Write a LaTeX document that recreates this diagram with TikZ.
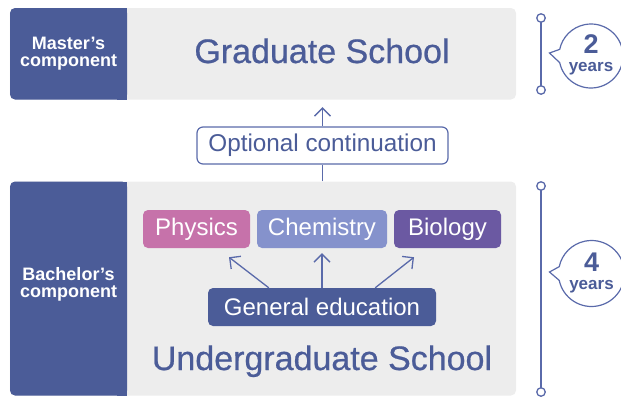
\documentclass[tikz,border=0pt]{standalone}
\usepackage{fontspec}
\setmainfont{Liberation Sans}
\newfontfamily\medfont{Liberation Sans}[FakeBold=0.6]
\usetikzlibrary{arrows.meta,calc}
\definecolor{navy}{RGB}{75,92,152}
\definecolor{panel}{RGB}{237,237,237}
\definecolor{tline}{RGB}{90,106,170}
\definecolor{phys}{RGB}{198,114,170}
\definecolor{chem}{RGB}{133,146,204}
\definecolor{bio}{RGB}{107,89,162}
\tikzset{
  subj/.style={rounded corners=5bp, inner sep=0pt, minimum height=38bp, text=white,
    font=\fontsize{24bp}{28bp}\selectfont},
  school/.style={text=navy, inner sep=0pt, font=\medfont\fontsize{34bp}{40bp}\selectfont},
  comp/.style={text=white, inner sep=0pt, align=center,
    font=\bfseries\fontsize{18bp}{17bp}\selectfont},
  arr/.style={draw=tline, line width=1.3bp, -{Straight Barb[length=8bp,width=16bp,line width=1.3bp]}},
  tl/.style={draw=tline, line width=1.5bp},
  dot/.style={circle, draw=tline, line width=1.3bp, fill=white, minimum size=8.5bp, inner sep=0pt},
  yrs/.style={text=navy, inner sep=0pt, align=center, font=\bfseries\fontsize{17bp}{20bp}\selectfont},
}
\newcommand{\bignum}[1]{{\fontsize{27bp}{28bp}\selectfont #1}}
\begin{document}
\begin{tikzpicture}[x=1bp,y=1bp]
\useasboundingbox (0,0) rectangle (621,-396);
% top panel
\node[fill=panel, rounded corners=5bp, minimum width=506bp, minimum height=91.5bp, inner sep=0pt] (toppanel) at (263,-53.75) {};
\fill[navy, rounded corners=5bp] (10,-8) rectangle (127,-99.5);
\fill[navy] (117,-8) rectangle (127,-99.5);
\node[comp] (master) at (68.5,-54) {Master’s\\component};
\node[school, anchor=base] (grad) at (322,-63) {Graduate School};
% bottom panel
\node[fill=panel, rounded corners=5bp, minimum width=506bp, minimum height=214bp, inner sep=0pt] (botpanel) at (263,-288.5) {};
\fill[navy, rounded corners=5bp] (10,-181.5) rectangle (127,-395.5);
\fill[navy] (117,-181.5) rectangle (127,-395.5);
\node[comp] (bach) at (68.5,-284.5) {Bachelor’s\\component};
\node[school, anchor=base] (under) at (322,-370) {Undergraduate School};
% optional continuation
\node[draw=tline, line width=1.2bp, fill=white, rounded corners=6bp, minimum width=251bp, minimum height=37bp, inner sep=0pt, text=navy,
  font=\fontsize{24.3bp}{28bp}\selectfont] (opt) at (322.5,-145.5) {Optional continuation};
\draw[tl, line width=1.3bp] (botpanel.north -| opt.south) -- (opt.south);
\draw[arr] (opt.north) -- ([yshift=-7.5bp]toppanel.south -| opt.north);
% subjects
\node[subj, fill=phys, minimum width=107bp] (physics) at (196.5,-229) {Physics};
\node[subj, fill=chem, minimum width=130bp] (chemistry) at (322,-229) {Chemistry};
\node[subj, fill=bio, minimum width=107bp] (biology) at (447.5,-229) {Biology};
\node[subj, fill=navy, minimum width=228bp] (gened) at (322,-307) {General education};
\draw[arr] ([xshift=61bp]gened.north west) -- ([xshift=32.5bp,yshift=-9bp]physics.south);
\draw[arr] (gened.north) -- ([yshift=-5bp]chemistry.south);
\draw[arr] ([xshift=-61bp]gened.north east) -- ([xshift=-33.5bp,yshift=-9bp]biology.south);
% timeline top
\coordinate (t1) at (541,-18);
\coordinate (t2) at (541,-90);
\draw[tl] (t1) -- (t2);
\node[dot] (d1) at (t1) {};
\node[dot] (d2) at (t2) {};
\coordinate (b1c) at (591,-56);
\coordinate (b1tip) at (549.5,-53);
\draw[draw=tline, line width=1.2bp, fill=white] (b1c) ++(192:32) arc[start angle=192, end angle=528, radius=32] -- (b1tip) -- cycle;
\node[yrs] (years1) at (591,-54.5) {\bignum{2}\\[-2bp]years};
% timeline bottom
\coordinate (t3) at (541,-186);
\coordinate (t4) at (541,-392);
\draw[tl] (t3) -- (t4);
\node[dot] (d3) at (t3) {};
\node[dot] (d4) at (t4) {};
\coordinate (b2c) at (591.5,-273.5);
\coordinate (b2tip) at (549.5,-272);
\draw[draw=tline, line width=1.2bp, fill=white] (b2c) ++(192:33) arc[start angle=192, end angle=528, radius=33] -- (b2tip) -- cycle;
\node[yrs] (years2) at (591.5,-272.5) {\bignum{4}\\[-2bp]years};
\end{tikzpicture}
\end{document}
